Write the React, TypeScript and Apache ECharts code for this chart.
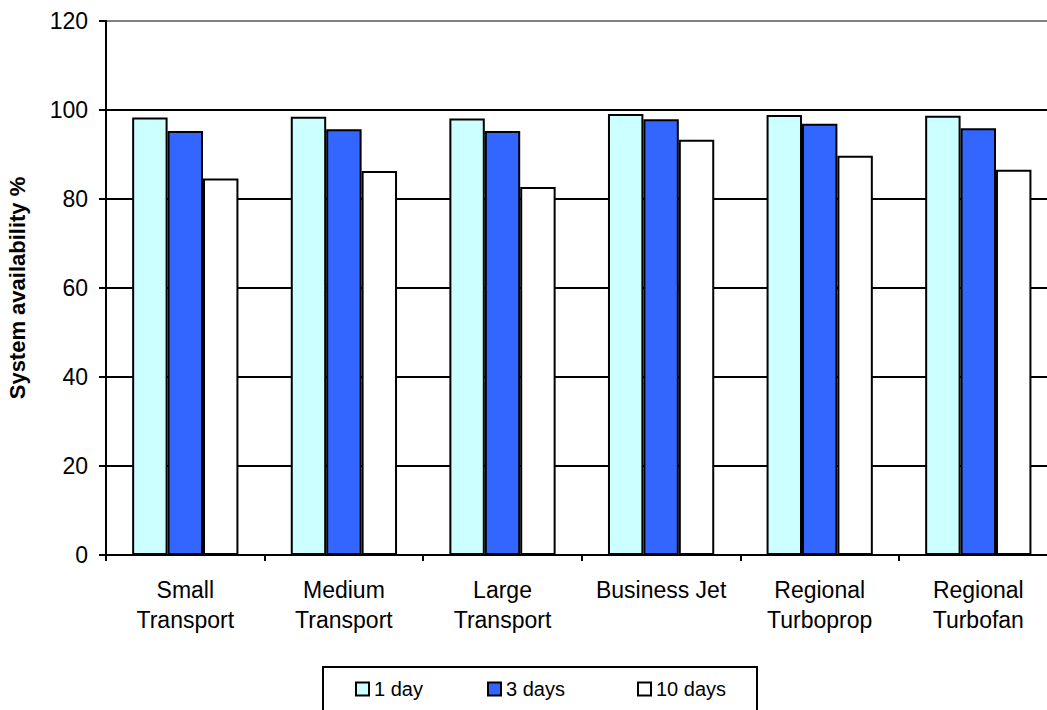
import React, { useEffect, useRef } from "react";
import * as echarts from "echarts";

const categories = [
  "Small\nTransport",
  "Medium\nTransport",
  "Large\nTransport",
  "Business Jet",
  "Regional\nTurboprop",
  "Regional\nTurbofan",
];
const seriesNames = ["1 day", "3 days", "10 days"];
const oneDay = [98.3, 98.5, 98.1, 99.1, 98.9, 98.7];
const threeDays = [95.3, 95.7, 95.3, 97.9, 96.9, 95.9];
const tenDays = [84.6, 86.3, 82.7, 93.3, 89.7, 86.6];
const seriesColors = ["#CCFFFF", "#3366FF", "#FFFFFF"];
const yTitle = "System availability %";

const FONT = "'Liberation Sans', Arial, sans-serif";

export default function App() {
  const ref = useRef<HTMLDivElement>(null);

  useEffect(() => {
    document.body.style.margin = "0";
    if (!ref.current) return;
    const chart = echarts.init(ref.current, null, { renderer: "svg" });
    const values = [oneDay, threeDays, tenDays];
    const legendLefts = [355, 487, 637];

    chart.setOption({
      animation: false,
      backgroundColor: "#ffffff",
      grid: {
        left: 106,
        top: 21,
        width: 951.6,
        height: 534,
        containLabel: false,
        outerBoundsMode: "none",
      },
      xAxis: {
        type: "category",
        data: categories,
        boundaryGap: true,
        axisLine: { show: true, lineStyle: { color: "#000", width: 2 } },
        axisTick: {
          show: true,
          length: 6,
          alignWithLabel: false,
          lineStyle: { color: "#000", width: 2 },
        },
        axisLabel: {
          color: "#000",
          fontFamily: FONT,
          fontSize: 23,
          lineHeight: 30,
          margin: 20,
          interval: 0,
        },
        splitLine: { show: false },
      },
      yAxis: {
        type: "value",
        min: 0,
        max: 120,
        interval: 20,
        name: yTitle,
        nameLocation: "middle",
        nameGap: 78,
        nameRotate: 90,
        nameTextStyle: {
          color: "#000",
          fontFamily: FONT,
          fontSize: 22,
          fontWeight: "bold",
        },
        axisLine: { show: true, lineStyle: { color: "#000", width: 2 } },
        axisTick: { show: true, length: 7, lineStyle: { color: "#000", width: 2 } },
        axisLabel: {
          color: "#000",
          fontFamily: FONT,
          fontSize: 23,
          margin: 18,
        },
        splitLine: {
          show: true,
          lineStyle: {
            color: ["#000", "#000", "#000", "#000", "#000", "#000", "#808080"],
            width: 2,
          },
        },
      },
      legend: seriesNames.map((n, i) => ({
        show: true,
        data: [n],
        left: legendLefts[i],
        top: 679,
        padding: 0,
        icon: "rect",
        itemWidth: 13,
        itemHeight: 13,
        itemGap: 5,
        selectedMode: false,
        itemStyle: { borderColor: "#000", borderWidth: 2 },
        textStyle: {
          color: "#000",
          fontFamily: FONT,
          fontSize: 20,
          padding: [0, 0, 0, 0],
        },
      })),
      graphic: [
        {
          type: "rect",
          shape: { x: 323, y: 667, width: 434, height: 60 },
          style: { fill: "none", stroke: "#000", lineWidth: 2 },
          silent: true,
        },
      ],
      series: seriesNames.map((n, i) => ({
        type: "bar",
        name: n,
        data: values[i],
        barGap: "0%",
        barCategoryGap: "33%",
        itemStyle: {
          color: seriesColors[i],
          borderColor: "#000",
          borderWidth: 2,
        },
      })),
    });

    return () => chart.dispose();
  }, []);

  return <div ref={ref} style={{ width: 1047, height: 710 }} />;
}
